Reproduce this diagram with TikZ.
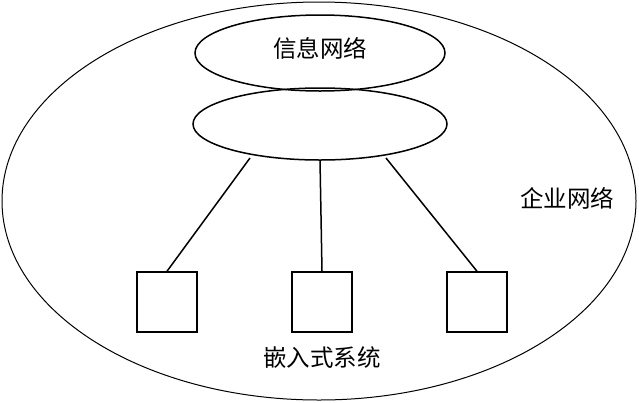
\documentclass[tikz,border=0pt]{standalone}
\usepackage{fontspec}
\newfontfamily\cjk{Noto Sans CJK SC}
\usetikzlibrary{shapes.geometric}
\begin{document}
\begin{tikzpicture}[x=1pt,y=-1pt,line width=1.5pt,
  box/.style={draw,minimum size=60pt,inner sep=0pt},
  lbl/.style={font=\cjk\fontsize{23.5}{24}\selectfont}]
\useasboundingbox (0,0) rectangle (639,402);
\draw[line width=1pt] (319,201) ellipse [x radius=317, y radius=199];
\draw (320,53) ellipse [x radius=125, y radius=38];
\draw (320,124) ellipse [x radius=127, y radius=36];
\coordinate (l) at (250,158);
\coordinate (m) at (320,160);
\coordinate (r) at (386,158);
\node[box] (b1) at (167,302) {};
\node[box] (b2) at (322,302) {};
\node[box] (b3) at (477,302) {};
\draw (l) -- (b1.north);
\draw (m) -- (b2.north);
\draw (r) -- (b3.north);
\node[lbl] (t1) at (320,48) {信息网络};
\node[lbl] (t2) at (567,198) {企业网络};
\node[lbl] (t3) at (322,358) {嵌入式系统};
\end{tikzpicture}
\end{document}
